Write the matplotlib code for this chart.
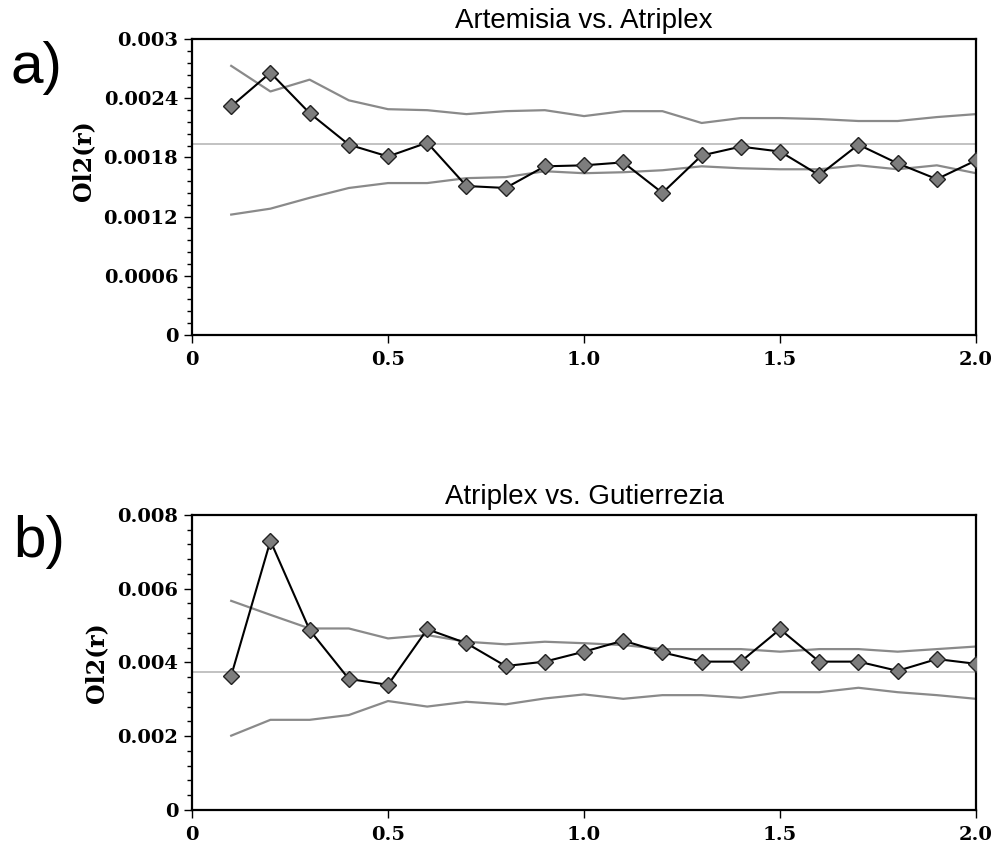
import numpy as np
import matplotlib.pyplot as plt
from matplotlib.ticker import MultipleLocator

# distances r
r = [0.1, 0.2, 0.3, 0.4, 0.5, 0.6, 0.7, 0.8, 0.9, 1.0,
     1.1, 1.2, 1.3, 1.4, 1.5, 1.6, 1.7, 1.8, 1.9, 2.0]

# a) Artemisia vs. Atriplex
a_obs = [0.00232, 0.00266, 0.00225, 0.00193, 0.00181, 0.00195, 0.00151, 0.00149, 0.00171, 0.00172,
         0.00175, 0.00144, 0.00182, 0.00191, 0.00186, 0.00162, 0.00193, 0.00174, 0.00158, 0.00177]
a_hi = [0.00273, 0.00247, 0.00259, 0.00238, 0.00229, 0.00228, 0.00224, 0.00227, 0.00228, 0.00222,
        0.00227, 0.00227, 0.00215, 0.00220, 0.00220, 0.00219, 0.00217, 0.00217, 0.00221, 0.00224]
a_lo = [0.00122, 0.00128, 0.00139, 0.00149, 0.00154, 0.00154, 0.00159, 0.00160, 0.00166, 0.00164,
        0.00165, 0.00167, 0.00171, 0.00169, 0.00168, 0.00168, 0.00172, 0.00168, 0.00172, 0.00164]
a_ref = 0.00194

# b) Atriplex vs. Gutierrezia
b_obs = [0.00364, 0.00730, 0.00488, 0.00355, 0.00339, 0.00490, 0.00452, 0.00390, 0.00402, 0.00429,
         0.00459, 0.00427, 0.00402, 0.00402, 0.00490, 0.00402, 0.00402, 0.00377, 0.00409, 0.00396]
b_hi = [0.00567, 0.00529, 0.00492, 0.00492, 0.00465, 0.00474, 0.00456, 0.00449, 0.00456, 0.00452,
        0.00447, 0.00436, 0.00436, 0.00436, 0.00429, 0.00436, 0.00436, 0.00429, 0.00436, 0.00443]
b_lo = [0.00201, 0.00244, 0.00244, 0.00257, 0.00295, 0.00280, 0.00293, 0.00286, 0.00302, 0.00313,
        0.00301, 0.00311, 0.00311, 0.00304, 0.00319, 0.00319, 0.00331, 0.00319, 0.00311, 0.00301]
b_ref = 0.00375

x_ticks = [0, 0.5, 1.0, 1.5, 2.0]
x_labels = ['0', '0.5', '1.0', '1.5', '2.0']
a_yticks = [0, 0.0006, 0.0012, 0.0018, 0.0024, 0.003]
a_ylabels = ['0', '0.0006', '0.0012', '0.0018', '0.0024', '0.003']
b_yticks = [0, 0.002, 0.004, 0.006, 0.008]
b_ylabels = ['0', '0.002', '0.004', '0.006', '0.008']

fig = plt.figure(figsize=(9.98, 8.5), dpi=100)
ax1 = fig.add_axes([0.1924, 0.6062, 0.7856, 0.3476])
ax2 = fig.add_axes([0.1924, 0.0474, 0.7856, 0.3467])

tickfont = dict(family='DejaVu Serif', weight='bold', size=14)


def panel(ax, obs, hi, lo, ref, yt, yl, ymax, minor, title, lab_x, lab_y):
    ax.axhline(ref, color='#bdbdbd', lw=1.3, zorder=1)
    ax.plot(r, hi, color='#8a8a8a', lw=1.6, zorder=2)
    ax.plot(r, lo, color='#8a8a8a', lw=1.6, zorder=2)
    ax.plot(r, obs, color='black', lw=1.5, marker='D', ms=8.5,
            mfc='#7d7d7d', mec='#222222', mew=1.0, zorder=3)
    ax.set_xlim(0, 2.0)
    ax.set_ylim(0, ymax)
    ax.set_xticks(x_ticks)
    ax.set_xticklabels(x_labels, fontdict=tickfont)
    ax.set_yticks(yt)
    ax.set_yticklabels(yl, fontdict=tickfont)
    ax.yaxis.set_minor_locator(MultipleLocator(minor))
    ax.tick_params(axis='both', which='major', direction='out', length=6, width=1, pad=4)
    ax.tick_params(axis='x', which='major', pad=6)
    ax.tick_params(axis='y', which='minor', direction='out', length=3.5, width=1)
    for s in ax.spines.values():
        s.set_linewidth(1.6)
    ax.set_title(title, fontsize=20, family='Liberation Sans', pad=8)
    ax.set_ylabel('Ol2(r)', family='DejaVu Serif', weight='bold', size=17)
    ax.yaxis.set_label_coords(lab_x, lab_y)


panel(ax1, a_obs, a_hi, a_lo, a_ref, a_yticks, a_ylabels, 0.003, 0.00012,
      'Artemisia vs. Atriplex', -0.1237, 0.59)
panel(ax2, b_obs, b_hi, b_lo, b_ref, b_yticks, b_ylabels, 0.008, 0.0004,
      'Atriplex vs. Gutierrezia', -0.107, 0.5)

fig.text(0.011, 0.9024, 'a)', fontsize=42, family='Liberation Sans', va='baseline', ha='left')
fig.text(0.0135, 0.3447, 'b)', fontsize=42, family='Liberation Sans', va='baseline', ha='left')

fig.savefig('out.png', dpi=100)
